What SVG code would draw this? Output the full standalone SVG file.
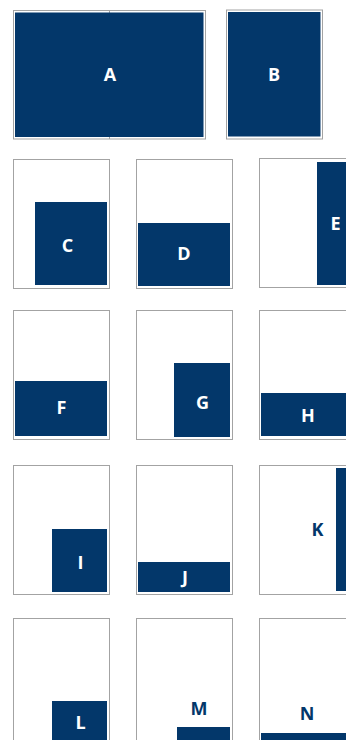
<svg xmlns="http://www.w3.org/2000/svg" width="346" height="740" viewBox="0 0 346 740">
<style>
.frame{fill:#fff;stroke:#a3a3a3;stroke-width:1}
.fill{fill:#03376a}
.lbl{font-family:"Open Sans","Liberation Sans",sans-serif;font-weight:700;font-size:18px;text-anchor:middle}
.w{fill:#fff}
.d{fill:#03376a}
</style>
<rect width="346" height="740" fill="#fff"/>
<g id="A">
<rect class="frame" x="13.5" y="10.5" width="192" height="128.5"/>
<line x1="109.5" y1="11" x2="109.5" y2="139" stroke="#a3a3a3" stroke-width="1"/>
<rect class="fill" x="15" y="12.5" width="188.5" height="124.5"/>
<text class="lbl w" x="110" y="81">A</text>
</g>
<g id="B">
<rect class="frame" x="226.5" y="10" width="96" height="129"/>
<rect class="fill" x="228" y="12" width="92.5" height="124.5"/>
<text class="lbl w" x="274" y="81">B</text>
</g>
<g id="C">
<rect class="frame" x="13.5" y="159.5" width="96" height="129"/>
<rect class="fill" x="35" y="202" width="72" height="83"/>
<text class="lbl w" x="67.5" y="252">C</text>
</g>
<g id="D">
<rect class="frame" x="136.5" y="159.5" width="96" height="129"/>
<rect class="fill" x="138" y="223" width="92" height="63"/>
<text class="lbl w" x="184" y="260">D</text>
</g>
<g id="E">
<rect class="frame" x="259.5" y="158.5" width="96" height="129"/>
<rect class="fill" x="317" y="162" width="40" height="123"/>
<text class="lbl w" x="335.5" y="230">E</text>
</g>
<g id="F">
<rect class="frame" x="13.5" y="310.5" width="96" height="129"/>
<rect class="fill" x="15" y="381" width="92" height="55"/>
<text class="lbl w" x="61.5" y="414">F</text>
</g>
<g id="G">
<rect class="frame" x="136.5" y="310.5" width="96" height="129"/>
<rect class="fill" x="174" y="363" width="56" height="74"/>
<text class="lbl w" x="202.5" y="408.5">G</text>
</g>
<g id="H">
<rect class="frame" x="259.5" y="310.5" width="96" height="129"/>
<rect class="fill" x="261" y="393" width="90" height="43"/>
<text class="lbl w" x="308" y="422">H</text>
</g>
<g id="I">
<rect class="frame" x="13.5" y="465.5" width="96" height="129"/>
<rect class="fill" x="52" y="529" width="55" height="63"/>
<text class="lbl w" x="80.5" y="568.5">I</text>
</g>
<g id="J">
<rect class="frame" x="136.5" y="465.5" width="96" height="129"/>
<rect class="fill" x="138" y="562" width="92" height="30"/>
<text class="lbl w" x="185" y="584">J</text>
</g>
<g id="K">
<rect class="frame" x="259.5" y="465.5" width="96" height="129"/>
<rect class="fill" x="336" y="468" width="20" height="123"/>
<text class="lbl d" x="317.5" y="536">K</text>
</g>
<g id="L">
<rect class="frame" x="13.5" y="618.5" width="96" height="129"/>
<rect class="fill" x="52" y="701" width="55" height="41"/>
<text class="lbl w" x="80.5" y="729">L</text>
</g>
<g id="M">
<rect class="frame" x="136.5" y="618.5" width="96" height="129"/>
<rect class="fill" x="177" y="727" width="53" height="15"/>
<text class="lbl d" x="199" y="714.5">M</text>
</g>
<g id="N">
<rect class="frame" x="259.5" y="618.5" width="96" height="129"/>
<rect class="fill" x="261" y="733" width="90" height="10"/>
<text class="lbl d" x="307" y="719.5">N</text>
</g>
<g id="connectors"/>
</svg>
